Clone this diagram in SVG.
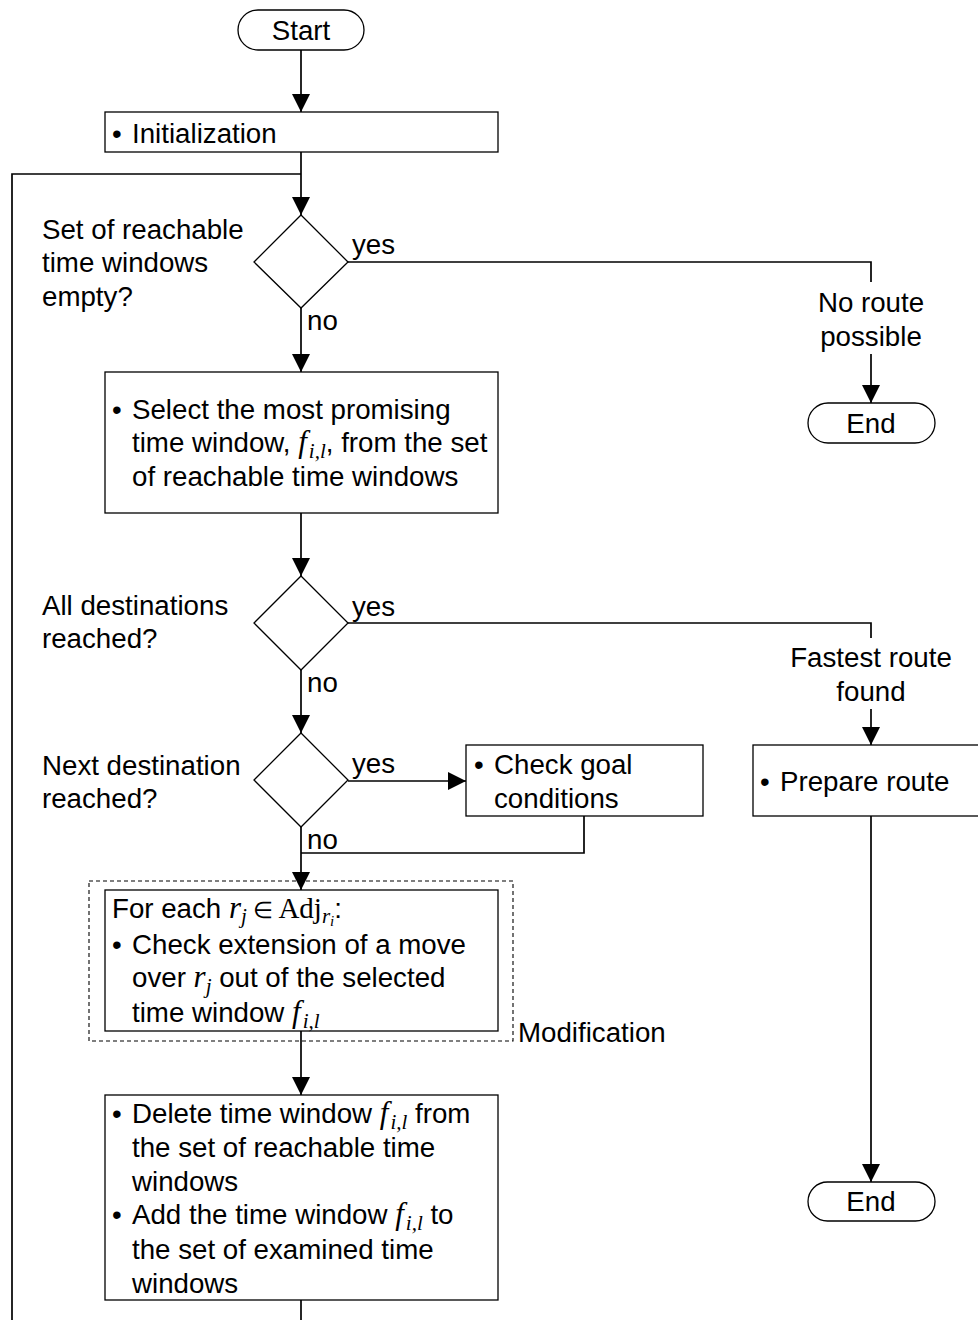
<svg xmlns="http://www.w3.org/2000/svg" width="978" height="1320" viewBox="0 0 978 1320">
<style>
  .bg{fill:#ffffff}
  .box{fill:#ffffff;stroke:#000;stroke-width:1.3}
  .term{fill:#ffffff;stroke:#000;stroke-width:1.3}
  .dash{fill:none;stroke:#000;stroke-width:1.1;stroke-dasharray:4,3}
  .ln{fill:none;stroke:#000;stroke-width:1.7}
  .t{font-family:"Liberation Sans",Arial,sans-serif;font-size:27.7px;fill:#000}
  .c{text-anchor:middle}
  .m{font-family:"Liberation Serif","Times New Roman",serif;font-style:italic;font-size:31px}
  .mu{font-family:"Liberation Serif","Times New Roman",serif;font-style:normal;font-size:29px}
  .sub{font-size:21px}
  .ssub{font-size:15px}
  .el{font-size:23px}
</style>
<defs>
  <marker id="arr" markerUnits="userSpaceOnUse" markerWidth="18" markerHeight="18" viewBox="0 0 16 16" refX="16" refY="8" orient="auto">
    <path d="M0,0 L16,8 L0,16 Z" fill="#000"/>
  </marker>
</defs>
<rect class="bg" x="0" y="0" width="978" height="1320"/>

<g id="connectors">
  <line class="ln" x1="301" y1="50" x2="301" y2="112" marker-end="url(#arr)"/>
  <line class="ln" x1="301" y1="152" x2="301" y2="215" marker-end="url(#arr)"/>
  <polyline class="ln" points="301,174 12,174 12,1320"/>
  <polyline class="ln" points="348,262 871,262 871,282"/>
  <line class="ln" x1="871" y1="354" x2="871" y2="403" marker-end="url(#arr)"/>
  <line class="ln" x1="301" y1="308" x2="301" y2="372" marker-end="url(#arr)"/>
  <line class="ln" x1="301" y1="513" x2="301" y2="576" marker-end="url(#arr)"/>
  <polyline class="ln" points="348,623 871,623 871,638"/>
  <line class="ln" x1="871" y1="709" x2="871" y2="745" marker-end="url(#arr)"/>
  <line class="ln" x1="871" y1="816" x2="871" y2="1182" marker-end="url(#arr)"/>
  <line class="ln" x1="301" y1="670" x2="301" y2="733" marker-end="url(#arr)"/>
  <line class="ln" x1="348" y1="781" x2="466" y2="781" marker-end="url(#arr)"/>
  <polyline class="ln" points="584,816 584,853 301,853"/>
  <line class="ln" x1="301" y1="827" x2="301" y2="890" marker-end="url(#arr)"/>
  <line class="ln" x1="301" y1="1031" x2="301" y2="1095" marker-end="url(#arr)"/>
  <line class="ln" x1="301" y1="1300" x2="301" y2="1320"/>
  <text class="t" x="352" y="254">yes</text>
  <text class="t" x="307" y="330">no</text>
  <text class="t" x="352" y="616">yes</text>
  <text class="t" x="307" y="692">no</text>
  <text class="t" x="352" y="773">yes</text>
  <text class="t" x="307" y="849">no</text>
</g>

<g id="start">
  <rect class="term" x="238" y="10" width="126" height="40" rx="20" ry="20"/>
  <text class="t c" x="301" y="40">Start</text>
</g>

<g id="init">
  <rect class="box" x="105" y="112" width="393" height="40"/>
  <text class="t" x="112" y="143">•</text>
  <text class="t" x="132" y="143">Initialization</text>
</g>

<g id="dec1">
  <polygon class="box" points="301,215 348,262 301,308 254,262"/>
  <text class="t" x="42" y="239">Set of reachable</text>
  <text class="t" x="42" y="272">time windows</text>
  <text class="t" x="42" y="306">empty?</text>
</g>

<g id="noroute">
  <text class="t c" x="871" y="312">No route</text>
  <text class="t c" x="871" y="346">possible</text>
</g>

<g id="end1">
  <rect class="term" x="808" y="403" width="127" height="40" rx="20" ry="20"/>
  <text class="t c" x="871" y="433">End</text>
</g>

<g id="select">
  <rect class="box" x="105" y="372" width="393" height="141"/>
  <text class="t" x="112" y="419">•</text>
  <text class="t" x="132" y="419">Select the most promising</text>
  <text class="t" x="132" y="452">time window, <tspan class="m">f</tspan><tspan class="m sub" dx="2" dy="6">i,l</tspan><tspan dy="-6">, from the set</tspan></text>
  <text class="t" x="132" y="486">of reachable time windows</text>
</g>

<g id="dec2">
  <polygon class="box" points="301,576 348,623 301,670 254,623"/>
  <text class="t" x="42" y="615">All destinations</text>
  <text class="t" x="42" y="648">reached?</text>
</g>

<g id="fastest">
  <text class="t c" x="871" y="667">Fastest route</text>
  <text class="t c" x="871" y="701">found</text>
</g>

<g id="prepare">
  <rect class="box" x="753" y="745" width="240" height="71"/>
  <text class="t" x="760" y="791">•</text>
  <text class="t" x="780" y="791">Prepare route</text>
</g>

<g id="end2">
  <rect class="term" x="808" y="1182" width="127" height="39" rx="19.5" ry="19.5"/>
  <text class="t c" x="871" y="1211">End</text>
</g>

<g id="dec3">
  <polygon class="box" points="301,733 348,780 301,827 254,780"/>
  <text class="t" x="42" y="775">Next destination</text>
  <text class="t" x="42" y="808">reached?</text>
</g>

<g id="goal">
  <rect class="box" x="466" y="745" width="237" height="71"/>
  <text class="t" x="474" y="774">•</text>
  <text class="t" x="494" y="774">Check goal</text>
  <text class="t" x="494" y="808">conditions</text>
</g>

<g id="modification">
  <rect class="dash" x="89" y="881" width="424" height="160"/>
  <text class="t" x="518" y="1042">Modification</text>
</g>

<g id="foreach">
  <rect class="box" x="105" y="890" width="393" height="141"/>
  <text class="t" x="112" y="918">For each <tspan class="m">r</tspan><tspan class="m sub" dy="5">j</tspan><tspan class="mu el" dy="-5"> ∈ </tspan><tspan class="mu">Adj</tspan><tspan class="m sub" dy="5">r</tspan><tspan class="m ssub" dy="3">i</tspan><tspan dy="-8">:</tspan></text>
  <text class="t" x="112" y="954">•</text>
  <text class="t" x="132" y="954">Check extension of a move</text>
  <text class="t" x="132" y="987">over <tspan class="m">r</tspan><tspan class="m sub" dy="6">j</tspan><tspan dy="-6"> out of the selected</tspan></text>
  <text class="t" x="132" y="1022">time window <tspan class="m">f</tspan><tspan class="m sub" dx="2" dy="6">i,l</tspan></text>
</g>

<g id="delete">
  <rect class="box" x="105" y="1095" width="393" height="205"/>
  <text class="t" x="112" y="1123">•</text>
  <text class="t" x="132" y="1123">Delete time window <tspan class="m">f</tspan><tspan class="m sub" dx="2" dy="6">i,l</tspan><tspan dy="-6"> from</tspan></text>
  <text class="t" x="132" y="1157">the set of reachable time</text>
  <text class="t" x="132" y="1191">windows</text>
  <text class="t" x="112" y="1224">•</text>
  <text class="t" x="132" y="1224">Add the time window <tspan class="m">f</tspan><tspan class="m sub" dx="2" dy="6">i,l</tspan><tspan dy="-6"> to</tspan></text>
  <text class="t" x="132" y="1259">the set of examined time</text>
  <text class="t" x="132" y="1293">windows</text>
</g>
</svg>
